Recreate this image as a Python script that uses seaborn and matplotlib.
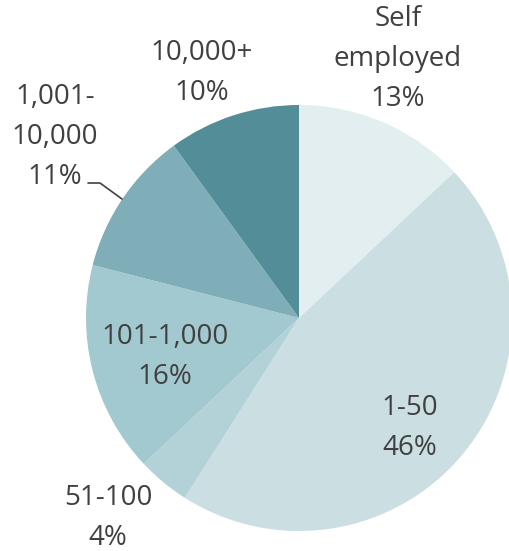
import matplotlib
matplotlib.use("Agg")
import matplotlib.pyplot as plt
import seaborn as sns

########################### DATA ###########################
categories = ["Self\nemployed", "1-50", "51-100", "101-1,000", "1,001-\n10,000", "10,000+"]
shares = [13, 46, 4, 16, 11, 10]
colors = ["#E2EEF0", "#CBDFE3", "#B3D2D8", "#A3C9D0", "#7FAEB8", "#528D98"]
# label centres in pixels (x, y from top)
label_px = [(398, 59), (410, 428), (108, 518), (165, 357), (55, 137), (202, 73)]

########################### STYLE ###########################
sns.set_theme(style="white")
plt.rcParams["font.family"] = ["Open Sans", "DejaVu Sans"]

W, H = 510, 551
cx, cy, R = 299, 318, 213

fig = plt.figure(figsize=(W / 100, H / 100), dpi=100)
ax = fig.add_axes([0, 0, 1, 1])
ax.pie(shares, colors=colors, startangle=90, counterclock=False, radius=1,
       wedgeprops=dict(linewidth=0))
ax.set_xlim(-cx / R, (W - cx) / R)
ax.set_ylim(-(H - cy) / R, cy / R)
ax.set_aspect("equal")
ax.axis("off")

def to_data(px, py):
    return (px - cx) / R, (cy - py) / R

for cat, val, (px, py) in zip(categories, shares, label_px):
    x, y = to_data(px, py)
    ax.text(x, y, f"{cat}\n{val}%", ha="center", va="center", fontsize=20,
            color="#404040", linespacing=1.55)

# leader line for the 1,001-10,000 label
p0 = to_data(88, 183)
p1 = to_data(100, 183)
p2 = to_data(122, 199)
ax.plot([p0[0], p1[0], p2[0]], [p0[1], p1[1], p2[1]], color="#404040", lw=1.2)

plt.savefig("out.png", dpi=100, facecolor="white")
